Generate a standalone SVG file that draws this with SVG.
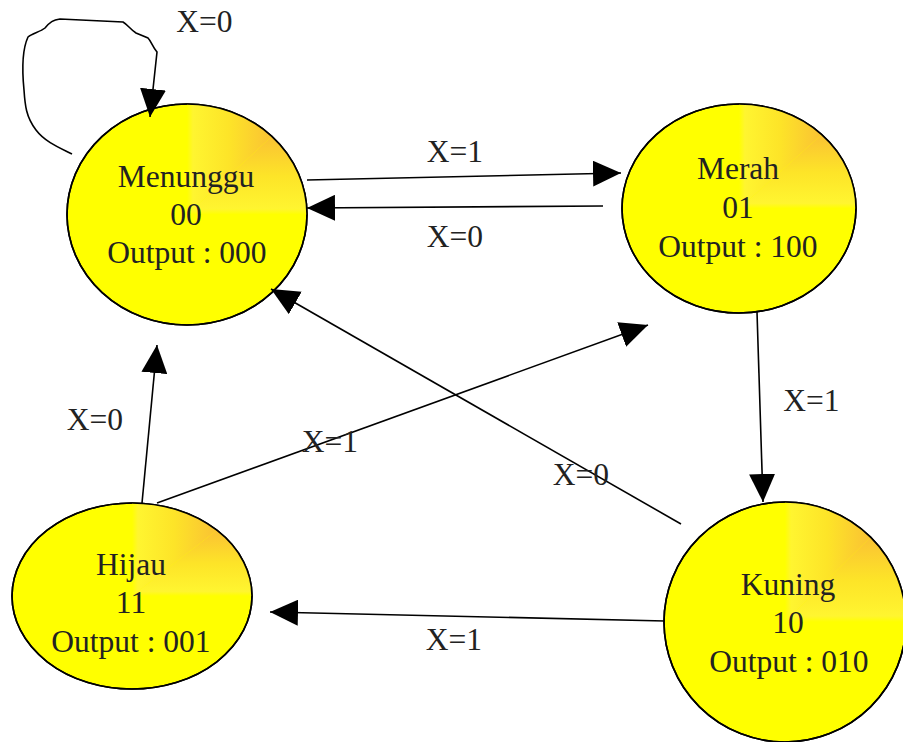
<svg xmlns="http://www.w3.org/2000/svg" width="903" height="742" viewBox="0 0 903 742">
<style>
.st{fill:#ffff00;stroke:#000;stroke-width:1.6}
.t{font-family:"Liberation Serif","Times New Roman",serif;font-size:31.5px;fill:#222;text-anchor:middle}
.c{fill:none;stroke:#000;stroke-width:1.6}
</style>
<defs>
<marker id="ah" markerUnits="userSpaceOnUse" markerWidth="28" markerHeight="26" refX="28" refY="13" orient="auto" viewBox="0 0 28 26">
<path d="M0,0 L28,13 L0,26 z" fill="#000"/>
</marker>
<linearGradient id="gh" x1="0" y1="0" x2="1" y2="0">
<stop offset="0" stop-color="#ffff00"/>
<stop offset="0.05" stop-color="#fff530"/>
<stop offset="0.35" stop-color="#fde428"/>
<stop offset="0.6" stop-color="#fbcc30"/>
<stop offset="0.8" stop-color="#f8ba35"/>
<stop offset="1" stop-color="#f5a830"/>
</linearGradient>
<linearGradient id="gv" x1="0" y1="1" x2="0" y2="0">
<stop offset="0" stop-color="#ffff00"/>
<stop offset="0.05" stop-color="#fff530"/>
<stop offset="0.35" stop-color="#fde428"/>
<stop offset="0.6" stop-color="#fbcc30"/>
<stop offset="0.8" stop-color="#f8ba35"/>
<stop offset="1" stop-color="#f5a830"/>
</linearGradient>
<clipPath id="cm"><ellipse cx="187" cy="214.5" rx="120" ry="110.5"/></clipPath>
<clipPath id="cr"><ellipse cx="739" cy="208.5" rx="117" ry="104.5"/></clipPath>
<clipPath id="ck"><ellipse cx="785" cy="622" rx="121" ry="120"/></clipPath>
<clipPath id="ch"><ellipse cx="132" cy="596" rx="120" ry="93"/></clipPath>
</defs>
<rect width="903" height="742" fill="#fff"/>

<g id="menunggu">
<ellipse class="st" cx="187" cy="214.5" rx="120" ry="110.5"/>
<g clip-path="url(#cm)">
<polygon points="187,214.5 307,214.5 307,104 " fill="url(#gv)"/>
<polygon points="187,214.5 307,104 187,104" fill="url(#gh)"/>
</g>
<ellipse cx="187" cy="214.5" rx="120" ry="110.5" fill="none" stroke="#000" stroke-width="1.6"/>
<text class="t" x="186" y="187">Menunggu</text>
<text class="t" x="186" y="225">00</text>
<text class="t" x="187" y="263">Output : 000</text>
</g>

<g id="merah">
<ellipse class="st" cx="739" cy="208.5" rx="117" ry="104.5"/>
<g clip-path="url(#cr)">
<polygon points="739,208.5 856,208.5 856,104" fill="url(#gv)"/>
<polygon points="739,208.5 856,104 739,104" fill="url(#gh)"/>
</g>
<ellipse cx="739" cy="208.5" rx="117" ry="104.5" fill="none" stroke="#000" stroke-width="1.6"/>
<text class="t" x="738" y="179">Merah</text>
<text class="t" x="738" y="218">01</text>
<text class="t" x="738" y="257">Output : 100</text>
</g>

<g id="kuning">
<ellipse class="st" cx="785" cy="622" rx="121" ry="120"/>
<g clip-path="url(#ck)">
<polygon points="785,622 906,622 906,502" fill="url(#gv)"/>
<polygon points="785,622 906,502 785,502" fill="url(#gh)"/>
</g>
<ellipse cx="785" cy="622" rx="121" ry="120" fill="none" stroke="#000" stroke-width="1.6"/>
<text class="t" x="788" y="595">Kuning</text>
<text class="t" x="788" y="633">10</text>
<text class="t" x="789" y="672">Output : 010</text>
</g>

<g id="hijau">
<ellipse class="st" cx="132" cy="596" rx="120" ry="93"/>
<g clip-path="url(#ch)">
<polygon points="132,596 252,596 252,503" fill="url(#gv)"/>
<polygon points="132,596 252,503 132,503" fill="url(#gh)"/>
</g>
<ellipse cx="132" cy="596" rx="120" ry="93" fill="none" stroke="#000" stroke-width="1.6"/>
<text class="t" x="131" y="575">Hijau</text>
<text class="t" x="131" y="613">11</text>
<text class="t" x="131" y="652">Output : 001</text>
</g>

<g id="connectors">
<path class="c" marker-end="url(#ah)" d="M72,154 C60,148 45,142 36,130 C26,117 25,105 24,90 C22,70 22,50 28,37 C33,33 40,32 45,28 C50,22 53,20 60,19 L123,22 C128,25 131,30 136,33 L148,38 C151,41 152,46 157,52 L150,117"/>
<line class="c" marker-end="url(#ah)" x1="307" y1="180" x2="621" y2="173"/>
<line class="c" marker-end="url(#ah)" x1="603" y1="206" x2="307" y2="208"/>
<line class="c" marker-end="url(#ah)" x1="757" y1="312" x2="763" y2="502"/>
<line class="c" marker-end="url(#ah)" x1="665" y1="621" x2="270" y2="612"/>
<line class="c" marker-end="url(#ah)" x1="142" y1="503" x2="157" y2="345"/>
<line class="c" marker-end="url(#ah)" x1="157" y1="503" x2="648" y2="325"/>
<line class="c" marker-end="url(#ah)" x1="681" y1="524" x2="271" y2="289"/>
<text class="t" x="204.5" y="32">X=0</text>
<text class="t" x="455" y="162">X=1</text>
<text class="t" x="455" y="247">X=0</text>
<text class="t" x="811.5" y="411">X=1</text>
<text class="t" x="454" y="650">X=1</text>
<text class="t" x="95" y="430">X=0</text>
<text class="t" x="330" y="452">X=1</text>
<text class="t" x="581" y="485">X=0</text>
</g>
</svg>
